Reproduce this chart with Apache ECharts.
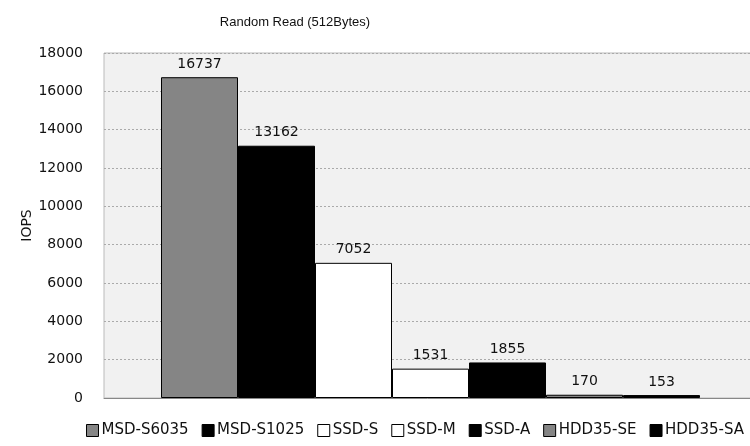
<!DOCTYPE html>
<html>
<head>
<meta charset="utf-8">
<script src="https://cdn.jsdelivr.net/npm/echarts@6/dist/echarts.min.js"></script>
<style>
  html, body { margin: 0; padding: 0; background: #fff; }
  #chart { width: 750px; height: 446px; }
</style>
</head>
<body>
<div id="chart"></div>
<script>
// 数据
const categories = ["Random Read"];
const seriesNames = ["MSD-S6035", "MSD-S1025", "SSD-S", "SSD-M", "SSD-A", "HDD35-SE", "HDD35-SA"];
const seriesValues = [16737, 13162, 7052, 1531, 1855, 170, 153];
const yTicks = [0, 2000, 4000, 6000, 8000, 10000, 12000, 14000, 16000, 18000];

// 每个系列的填充色
const fills = ["#858585", "#000000", "#ffffff", "#ffffff", "#000000", "#858585", "#000000"];

const font = "DejaVu Sans, sans-serif";

const chart = echarts.init(document.getElementById("chart"));

const series = seriesNames.map((name, i) => ({
  name: name,
  type: "bar",
  data: [seriesValues[i]],
  barWidth: 77,
  barGap: "0%",
  itemStyle: {
    color: fills[i],
    borderColor: "#000",
    borderWidth: 1
  },
  label: {
    show: true,
    position: "top",
    distance: 6,
    color: "#111",
    fontSize: 14,
    fontFamily: font
  }
}));

chart.setOption({
  animation: false,
  backgroundColor: "#fff",
  title: {
    text: "Random Read (512Bytes)",
    left: 290,
    textAlign: "center",
    top: 11,
    textStyle: { fontSize: 13, fontWeight: "normal", color: "#111", fontFamily: "Liberation Sans, Arial, sans-serif" }
  },
  legend: {
    bottom: 8,
    left: 86,
    padding: 0,
    itemWidth: 12,
    itemHeight: 12,
    itemGap: 13,
    icon: "rect",
    textStyle: { fontSize: 15, color: "#111", fontFamily: font, padding: [0, 0, 0, -2] },
    itemStyle: { borderColor: "#000", borderWidth: 1 },
    data: seriesNames
  },
  grid: {
    left: 104,
    right: -7,
    top: 53,
    bottom: 48,
    outerBoundsMode: "none",
    containLabel: false,
    show: true,
    backgroundColor: "#f1f1f1",
    borderColor: "#bbb",
    borderWidth: 1
  },
  xAxis: {
    type: "category",
    data: categories,
    axisLabel: { show: false },
    axisTick: { show: false },
    axisLine: { lineStyle: { color: "#888" } }
  },
  yAxis: {
    type: "value",
    min: yTicks[0],
    max: yTicks[yTicks.length - 1],
    interval: 2000,
    name: "IOPS",
    nameLocation: "middle",
    nameRotate: 90,
    nameGap: 70,
    nameMoveOverlap: false,
    nameTextStyle: { fontSize: 14, color: "#111", fontFamily: font },
    axisLine: { show: false },
    axisTick: { show: false },
    axisLabel: {
      fontSize: 14,
      color: "#111",
      fontFamily: font,
      margin: 21,
      formatter: (v) => String(v)
    },
    splitLine: { lineStyle: { color: "#aaa", type: [2, 2] } }
  },
  series: series
});
</script>
</body>
</html>
